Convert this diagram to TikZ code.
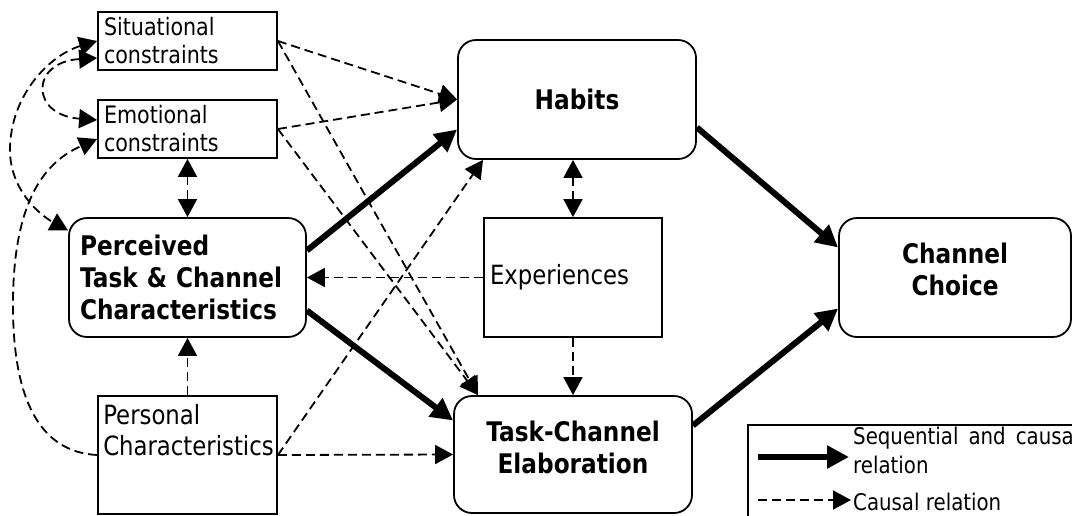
\documentclass[tikz,border=0pt]{standalone}
\usepackage{fontspec}
\setmainfont{DejaVu Sans}[FakeStretch=0.86]
\usetikzlibrary{arrows.meta, positioning, calc}

\tikzset{
  boldbox/.style={draw, line width=1.8pt, rounded corners=18pt, font=\fontsize{27}{32}\selectfont\bfseries, align=center},
  boldtext/.style={font=\fontsize{27}{32}\selectfont\bfseries, align=center, inner sep=0pt},
  plainbox/.style={draw, line width=1.8pt, align=left, inner xsep=6pt},
  smalltext/.style={font=\fontsize{24}{28}\selectfont},
  midtext/.style={font=\fontsize{26.5}{31}\selectfont},
  legendtext/.style={font=\fontsize{23}{29}\selectfont},
  causal/.style={-{Triangle[length=18pt,width=19pt]}, line width=1.8pt, dash pattern=on 9pt off 5pt},
  mutual/.style={causal, {Triangle[length=18pt,width=19pt]}-{Triangle[length=18pt,width=19pt]}},
  sequential/.style={-{Triangle[length=22pt,width=22pt]}, line width=6pt},
}

\begin{document}
\begin{tikzpicture}[x=1pt, y=-1pt]
\useasboundingbox (0,0) rectangle (1072,515);

% left column
\node[plainbox, smalltext, minimum width=179pt, minimum height=58pt, text width=167pt] (sit) at (187.5,41) {Situational\\constraints};
\node[plainbox, smalltext, minimum width=179pt, minimum height=58pt, text width=167pt] (emo) at (187.5,129) {Emotional\\constraints};
\node[boldbox, minimum width=237pt, minimum height=119pt, text width=215pt, align=left, inner xsep=11pt] (per) at (187.5,277.5)
  {Perceived\\\makebox[215pt][s]{Task \& Channel}\\Characteristics};
\node[plainbox, minimum width=179pt, minimum height=118pt] (pers) at (187.5,455) {};
\node[midtext, anchor=north west, align=left, inner sep=0pt] (perstext) at ([xshift=6pt, yshift=-9pt]pers.north west) {Personal\\Characteristics};

% middle column
\node[boldbox, minimum width=238pt, minimum height=119pt] (hab) at (577,99.5) {Habits};
\node[plainbox, midtext, minimum width=178pt, minimum height=119pt, text width=166pt] (exp) at (573,277.5) {Experiences};
\node[boldbox, minimum width=238pt, minimum height=117pt] (ela) at (573,454.5) {};
\node[boldtext] (elatext) at ([yshift=7pt]ela.center) {Task-Channel\\Elaboration};

% right column
\node[boldbox, minimum width=232pt, minimum height=119pt] (cho) at (955,277.5) {};
\node[boldtext] (chotext) at ([yshift=8pt]cho.center) {Channel\\Choice};

% legend
\node[draw, line width=1.8pt, anchor=north west, minimum width=340pt, minimum height=110pt] (legend) at (747,424) {};
\coordinate (seqA) at (758,457);
\coordinate (seqB) at (849,457);
\coordinate (cauA) at (758,500);
\coordinate (cauB) at (851,500);
\draw[sequential] (seqA) -- (seqB);
\draw[causal] (cauA) -- (cauB);
\node[legendtext, anchor=north west, align=left, inner sep=0pt] (seqtext) at (853,427) {\makebox[226pt][s]{Sequential and causal}\\relation};
\node[legendtext, anchor=base west, inner sep=0pt] (cautext) at (853,510) {Causal relation};

% sequential and causal relations
\draw[sequential] ([yshift=27pt]per.east) -- ([yshift=-30pt]hab.west);
\draw[sequential] ([yshift=-33pt]per.east) -- ([yshift=34pt]ela.west);
\draw[sequential] ([yshift=-28pt]hab.east) -- ([yshift=30pt]cho.west);
\draw[sequential] ([yshift=29pt]ela.east) -- ([yshift=-31pt]cho.west);

% causal relations
\draw[causal] (sit.east) -- (hab.west);
\draw[causal] (emo.east) -- (hab.west);
\draw[causal] (sit.east) -- ([xshift=-95pt]ela.north);
\draw[causal] (emo.east) -- ([xshift=-95pt]ela.north);
\draw[causal] (pers.east) -- ([xshift=-94pt]hab.south);
\draw[causal] (pers.east) -- (ela.west);
\draw[causal] (pers.north) -- (per.south);
\draw[mutual] (emo.south) -- (per.north);
\draw[causal] (exp.west) -- (per.east);
\draw[mutual] (exp.north) -- (exp.north |- hab.south);
\draw[causal] (exp.south) -- (ela.north);

% curved links on the left
\draw[mutual] (sit.west) .. controls (50,55) and (10,95) .. (10,150)
  .. controls (10,190) and (40,215) .. ([yshift=47pt]per.west);
\draw[mutual] ([yshift=-17pt]sit.west) .. controls (30,62) and (30,115) .. ([yshift=9pt]emo.west);
\draw[causal] (pers.west) .. controls (40,452) and (12,400) .. (13,300)
  .. controls (14,200) and (45,162) .. ([yshift=-10pt]emo.west);
\end{tikzpicture}
\end{document}
